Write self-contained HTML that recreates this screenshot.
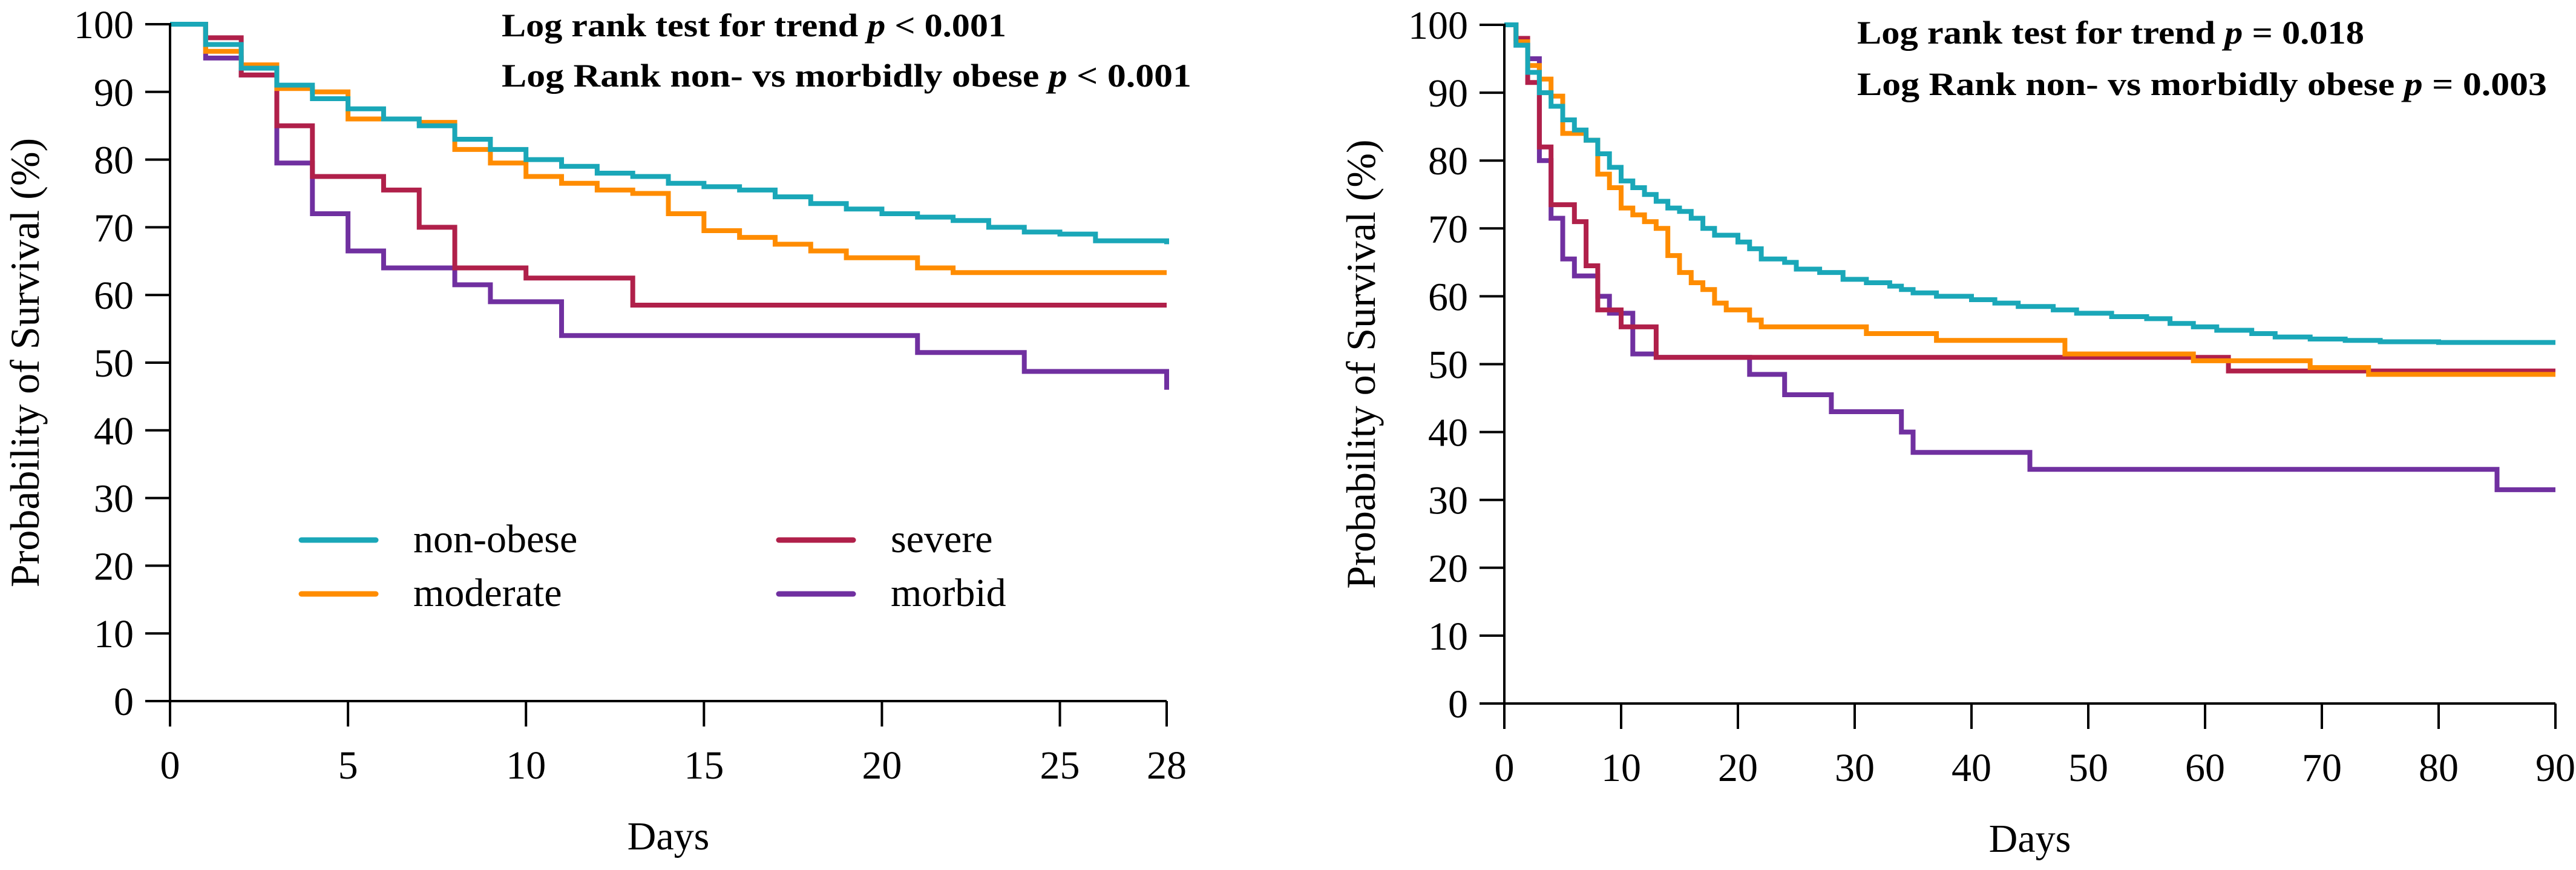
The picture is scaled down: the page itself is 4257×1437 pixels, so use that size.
<!DOCTYPE html>
<html><head><meta charset="utf-8"><style>
html,body{margin:0;padding:0;background:#fff;}
svg{display:block;}
text{font-family:"Liberation Serif",serif;fill:#000;}
</style></head><body>
<svg id="chart" width="4257" height="1437" viewBox="0 0 4257 1437" xmlns="http://www.w3.org/2000/svg"></svg>
<script>
const leftTicksX=[0,5,10,15,20,25,28];
const rightTicksX=[0,10,20,30,40,50,60,70,80,90];
const yTicks=[0,10,20,30,40,50,60,70,80,90,100];
const seriesNames=["morbid","severe","moderate","non-obese"];
const seriesColors=["#7030A0","#B0204A","#FF8C00","#1AA7B8"];
// left chart (28 days)
const L_morbidX=[0,1,2,3,4,5,6,8,9,11,21,24,28];
const L_morbidY=[100,95,92.5,79.5,72,66.5,64,61.5,59,54,51.5,48.7,46];
const L_severeX=[0,1,2,3,4,6,7,8,10,13,28];
const L_severeY=[100,98,92.5,85,77.5,75.5,70,64,62.5,58.5,58.5];
const L_moderateX=[0,1,2,3,4,5,7,8,9,10,11,12,13,14,15,16,17,18,19,21,22,28];
const L_moderateY=[100,96,94,90.5,90,86,85.5,81.5,79.5,77.5,76.5,75.5,75,72,69.5,68.5,67.5,66.5,65.5,64,63.3,63.3];
const L_nonX=[0,1,2,3,4,5,6,7,8,9,10,11,12,13,14,15,16,17,18,19,20,21,22,23,24,25,26,28];
const L_nonY=[100,97,93.5,91,89,87.5,86,85,83,81.5,80,79,78,77.5,76.5,76,75.5,74.5,73.5,72.7,72,71.5,71,70,69.3,69,68,67.5];
// right chart (90 days)
const R_morbidX=[0,1,2,3,4,5,6,8,9,11,13,21,24,28,34,35,45,85,90];
const R_morbidY=[100,97,95,80,71.5,65.5,63,60,57.5,51.5,51,48.5,45.5,43,40,37,34.5,31.5,31.5];
const R_severeX=[0,1,2,3,4,6,7,8,10,13,62,90];
const R_severeY=[100,98,91.5,82,73.5,71,64.5,58,55.5,51,49,49];
const R_moderateX=[0,1,2,3,4,5,7,8,9,10,11,12,13,14,15,16,17,18,19,21,22,31,37,48,59,69,74,90];
const R_moderateY=[100,97.5,94,92,89.5,84,83,78,76,73,72,71,70,66,63.5,62,61,59,58,56.5,55.5,54.5,53.5,51.5,50.5,49.5,48.5,48.5];
const R_nonX=[0,1,2,3,4,5,6,7,8,9,10,11,12,13,14,15,16,17,18,20,21,22,24,25,27,29,31,33,34,35,37,40,42,44,47,49,52,55,57,59,61,64,66,69,72,75,80,90];
const R_nonY=[100,97,93,90,88,86,84.5,83,81,79,77,76,75,74,73,72.5,71.5,70,69,68,67,65.5,65,64,63.5,62.5,62,61.5,61,60.5,60,59.5,59,58.5,58,57.5,57,56.7,56,55.5,55,54.5,54,53.7,53.5,53.3,53.2,53.2];

const NS="http://www.w3.org/2000/svg";
const svg=document.getElementById('chart');
function mk(tag,attrs,parent){const e=document.createElementNS(NS,tag);for(const k in attrs)e.setAttribute(k,attrs[k]);(parent||svg).appendChild(e);return e;}

function drawChart(cfg){
  const g=mk('g',{});
  
  
  const xs=v=>cfg.x0+(v-0)/cfg.xmax*(cfg.x1-cfg.x0);
  const ys=v=>cfg.y0+(v/100)*(cfg.y100-cfg.y0);
  cfg.series.forEach((s,i)=>{
    let d='M'+xs(s.x[0])+','+ys(s.y[0]);
    for(let k=1;k<s.x.length;k++){d+=' H'+xs(s.x[k])+' V'+ys(s.y[k]);}
    const p=mk('path',{d:d,fill:'none',stroke:seriesColors[i],'stroke-width':8,'stroke-linejoin':'miter'},g);
    
    
  });
  const ax=mk('path',{d:`M${cfg.x0},${cfg.y100-2} V${cfg.y0} H${cfg.x1}`,fill:'none',stroke:'#000','stroke-width':4},g);
  
  
  yTicks.forEach(t=>{
    mk('line',{x1:cfg.x0-41,x2:cfg.x0,y1:ys(t),y2:ys(t),stroke:'#000','stroke-width':4},g);
    const tx=mk('text',{x:cfg.x0-60,y:ys(t)+23,'text-anchor':'end','font-size':66},g);
    tx.textContent=t;
    
    
  });
  cfg.xTicks.forEach(t=>{
    mk('line',{x1:xs(t),x2:xs(t),y1:cfg.y0,y2:cfg.y0+42,stroke:'#000','stroke-width':4},g);
    const tx=mk('text',{x:xs(t),y:cfg.y0+128,'text-anchor':'middle','font-size':66},g);
    tx.textContent=t;
    
    
  });
  const xt=mk('text',{x:(cfg.x0+cfg.x1)/2,y:cfg.y0+245,'text-anchor':'middle','font-size':66},g);
  xt.textContent='Days';
  
  
  const yt=mk('text',{x:0,y:0,'text-anchor':'middle','font-size':68,transform:`translate(${cfg.ytx},${(cfg.y0+cfg.y100)/2}) rotate(-90)`},g);
  yt.textContent='Probability of Survival (%)';
  
  
  cfg.notes.forEach((n,i)=>{
    const t=mk('text',{x:cfg.noteX,y:cfg.noteY[i],'font-size':54,'font-weight':'bold',textLength:n.len,lengthAdjust:'spacingAndGlyphs'},g);
    t.innerHTML=n.a+'<tspan font-style="italic">p</tspan>'+n.b;
    
    
  });
}

drawChart({name:'chart-28-day',x0:281,x1:1928,y0:1158,y100:40,xmax:28,xTicks:leftTicksX,ytx:64,noteX:829,noteY:[60,143],
  notes:[{a:'Log rank test for trend ',b:' < 0.001',len:834},{a:'Log Rank non- vs morbidly obese ',b:' < 0.001',len:1140}],
  series:[{x:L_morbidX,y:L_morbidY},{x:L_severeX,y:L_severeY},{x:L_moderateX,y:L_moderateY},{x:L_nonX,y:L_nonY}]});
drawChart({name:'chart-90-day',x0:2486,x1:4223,y0:1162,y100:41,xmax:90,xTicks:rightTicksX,ytx:2272,noteX:3069,noteY:[72,157],
  notes:[{a:'Log rank test for trend ',b:' = 0.018',len:838},{a:'Log Rank non- vs morbidly obese ',b:' = 0.003',len:1140}],
  series:[{x:R_morbidX,y:R_morbidY},{x:R_severeX,y:R_severeY},{x:R_moderateX,y:R_moderateY},{x:R_nonX,y:R_nonY}]});

const legend=mk('g',{});


const legItems=[{n:'non-obese',c:3,x:498,y:892},{n:'moderate',c:2,x:498,y:981},{n:'severe',c:1,x:1287,y:892},{n:'morbid',c:0,x:1287,y:981}];
legItems.forEach(it=>{
  const e=mk('g',{},legend);
  
  
  mk('line',{x1:it.x,x2:it.x+123,y1:it.y,y2:it.y,stroke:seriesColors[it.c],'stroke-width':9,'stroke-linecap':'round'},e);
  const t=mk('text',{x:it.x+185,y:it.y+20,'font-size':66},e);
  t.textContent=it.n;
});
</script>
</body></html>
